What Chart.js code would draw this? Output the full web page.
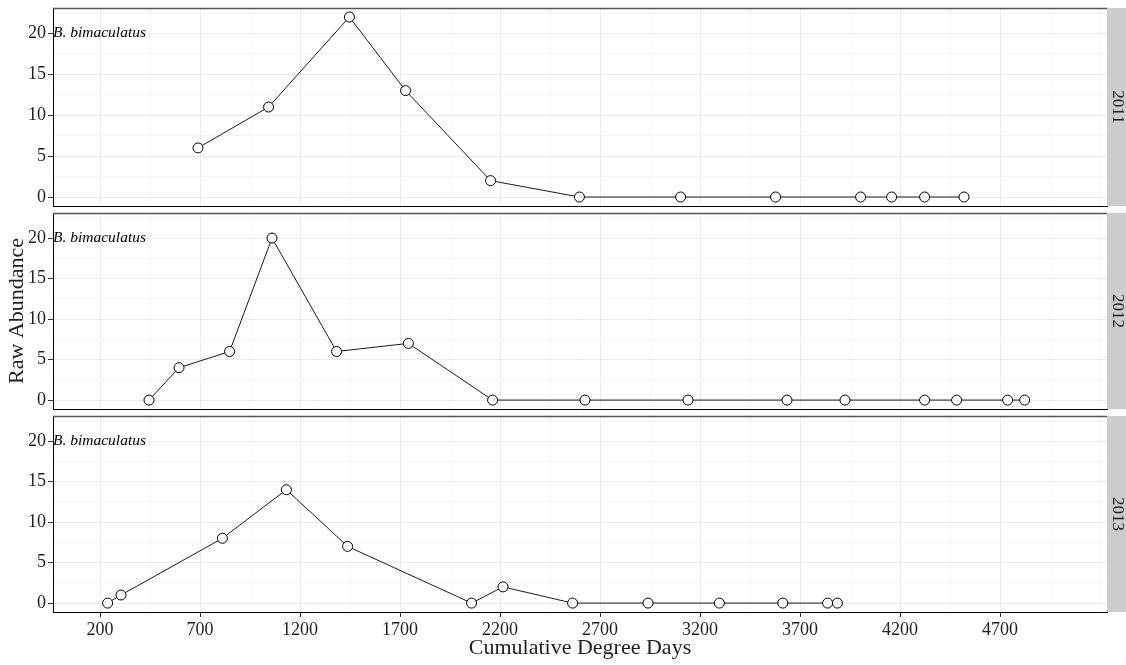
<!DOCTYPE html>
<html>
<head>
<meta charset="utf-8">
<script src="https://cdn.jsdelivr.net/npm/chart.js@4"></script>
<style>
  html, body { margin: 0; padding: 0; background: #fff; }
  #wrap { position: relative; width: 1126px; height: 665px; overflow: hidden; }
  canvas { position: absolute; left: 0; }
</style>
</head>
<body>
<div id="wrap">
  <canvas id="c2011" width="1126" height="212" style="top:0px"></canvas>
  <canvas id="c2012" width="1126" height="208" style="top:207px"></canvas>
  <canvas id="c2013" width="1126" height="255" style="top:410px"></canvas>
</div>
<script>
// Bombus bimaculatus raw abundance vs cumulative degree days, one panel per year.

const years = ['2011', '2012', '2013'];
const speciesLabel = 'B. bimaculatus';

// [cumulative degree days, raw abundance]
const dd2011  = [690, 1043, 1447, 1728, 2153, 2597, 3103, 3578, 4003, 4158, 4323, 4520];
const abu2011 = [6, 11, 22, 13, 2, 0, 0, 0, 0, 0, 0, 0];

const dd2012  = [445, 595, 848, 1060, 1383, 1742, 2163, 2625, 3140, 3635, 3925, 4323, 4483, 4738, 4823];
const abu2012 = [0, 4, 6, 20, 6, 7, 0, 0, 0, 0, 0, 0, 0, 0, 0];

const dd2013  = [238, 305, 812, 1132, 1438, 2058, 2215, 2563, 2940, 3297, 3614, 3838, 3887];
const abu2013 = [0, 1, 8, 14, 7, 0, 2, 0, 0, 0, 0, 0, 0];

const xBreaks      = [200, 700, 1200, 1700, 2200, 2700, 3200, 3700, 4200, 4700];
const xMinorBreaks = [450, 950, 1450, 1950, 2450, 2950, 3450, 3950, 4450, 4950, 5200];
const yBreaks      = [0, 5, 10, 15, 20];
const yMinorBreaks = [2.5, 7.5, 12.5, 17.5, 22.5];

const X_MIN = -35, X_MAX = 5235;
const Y_MIN = -1.1, Y_MAX = 23.1;

const SERIF = '"Liberation Serif", "Times New Roman", serif';
const TEXT = '#1e1e1e';
const GRID_MAJOR = '#ebebeb';
const GRID_MINOR = '#f5f5f5';

Chart.defaults.font.family = SERIF;
Chart.defaults.color = TEXT;

function setTicks(values) {
  return scale => { scale.ticks = values.slice().sort((a, b) => a - b).map(v => ({ value: v })); };
}

// kill the automatic label overflow padding so panel edges land where we put them
function noPad(scale) {
  scale.paddingTop = 0;
  scale.paddingBottom = 0;
  scale.paddingLeft = 0;
  scale.paddingRight = 0;
}

// strip on the right, species label, gray top border
const panelDeco = {
  id: 'panelDeco',
  afterDraw(chart, args, opts) {
    const { ctx, chartArea: a, scales } = chart;
    ctx.save();
    // top border
    ctx.strokeStyle = '#555';
    ctx.lineWidth = 1.5;
    ctx.beginPath();
    ctx.moveTo(a.left, a.top + 0.5);
    ctx.lineTo(a.right, a.top + 0.5);
    ctx.stroke();
    // strip
    ctx.fillStyle = '#cccccc';
    ctx.fillRect(a.right, a.top, chart.width - a.right, a.bottom - a.top);
    ctx.translate(a.right + 10, (a.top + a.bottom) / 2);
    ctx.rotate(Math.PI / 2);
    ctx.fillStyle = TEXT;
    ctx.font = '17px ' + SERIF;
    ctx.textAlign = 'center';
    ctx.textBaseline = 'middle';
    ctx.fillText(opts.year, 0, 0);
    ctx.restore();
    // species label
    ctx.save();
    ctx.fillStyle = '#000';
    ctx.font = 'italic 15.5px ' + SERIF;
    ctx.textAlign = 'left';
    ctx.textBaseline = 'middle';
    ctx.fillText(speciesLabel, a.left, scales.y.getPixelForValue(20));
    ctx.restore();
  }
};

function makePanel(id, year, xs, ys, opts) {
  const points = xs.map((x, i) => ({ x, y: ys[i] }));
  new Chart(document.getElementById(id), {
    type: 'line',
    data: {
      datasets: [{
        data: points,
        borderColor: '#1a1a1a',
        borderWidth: 1,
        pointRadius: 5,
        pointBorderWidth: 1,
        pointBackgroundColor: '#fff',
        pointBorderColor: '#000',
        tension: 0,
        clip: false,
      }],
    },
    options: {
      responsive: false,
      animation: false,
      devicePixelRatio: 1,
      layout: { padding: { top: opts.padTop, right: 19, bottom: opts.padBottom, left: 0 } },
      plugins: {
        legend: { display: false },
        tooltip: { enabled: false },
        panelDeco: { year },
      },
      scales: {
        x: {
          type: 'linear',
          min: X_MIN, max: X_MAX,
          afterBuildTicks: setTicks(xBreaks.concat(xMinorBreaks)),
          afterFit: s => { s.height = opts.bottomAxis ? 53 : 0; noPad(s); },
          border: { color: '#000', width: 1 },
          grid: {
            color: c => xBreaks.includes(c.tick.value) ? GRID_MAJOR : GRID_MINOR,
            tickColor: c => xBreaks.includes(c.tick.value) ? '#333' : 'rgba(0,0,0,0)',
            drawTicks: opts.bottomAxis,
            tickLength: 5,
          },
          ticks: {
            display: opts.bottomAxis,
            autoSkip: false,
            maxRotation: 0,
            padding: 2,
            font: { size: 18 },
            color: TEXT,
            callback: v => xBreaks.includes(v) ? String(v) : '',
          },
          title: {
            display: opts.bottomAxis,
            text: 'Cumulative Degree Days',
            font: { size: 22 },
            color: TEXT,
            padding: { top: 0, bottom: 4 },
          },
        },
        y: {
          type: 'linear',
          min: Y_MIN, max: Y_MAX,
          afterBuildTicks: setTicks(yBreaks.concat(yMinorBreaks)),
          afterFit: s => { s.width = 53; noPad(s); },
          border: { color: '#000', width: 1 },
          grid: {
            color: c => yBreaks.includes(c.tick.value) ? GRID_MAJOR : GRID_MINOR,
            tickColor: c => yBreaks.includes(c.tick.value) ? '#333' : 'rgba(0,0,0,0)',
            tickLength: 5,
          },
          ticks: {
            autoSkip: false,
            padding: 2,
            font: { size: 18 },
            color: TEXT,
            callback: v => yBreaks.includes(v) ? String(v) : '',
          },
          title: {
            display: opts.yTitle,
            text: 'Raw Abundance',
            font: { size: 22 },
            color: TEXT,
            padding: { top: 4, bottom: 0 },
          },
        },
      },
    },
    plugins: [panelDeco],
  });
}

makePanel('c2011', years[0], dd2011, abu2011, { padTop: 8, padBottom: 1, bottomAxis: false, yTitle: false });
makePanel('c2012', years[1], dd2012, abu2012, { padTop: 5, padBottom: 1, bottomAxis: false, yTitle: true });
makePanel('c2013', years[2], dd2013, abu2013, { padTop: 5, padBottom: 0, bottomAxis: true, yTitle: false });
</script>
</body>
</html>
